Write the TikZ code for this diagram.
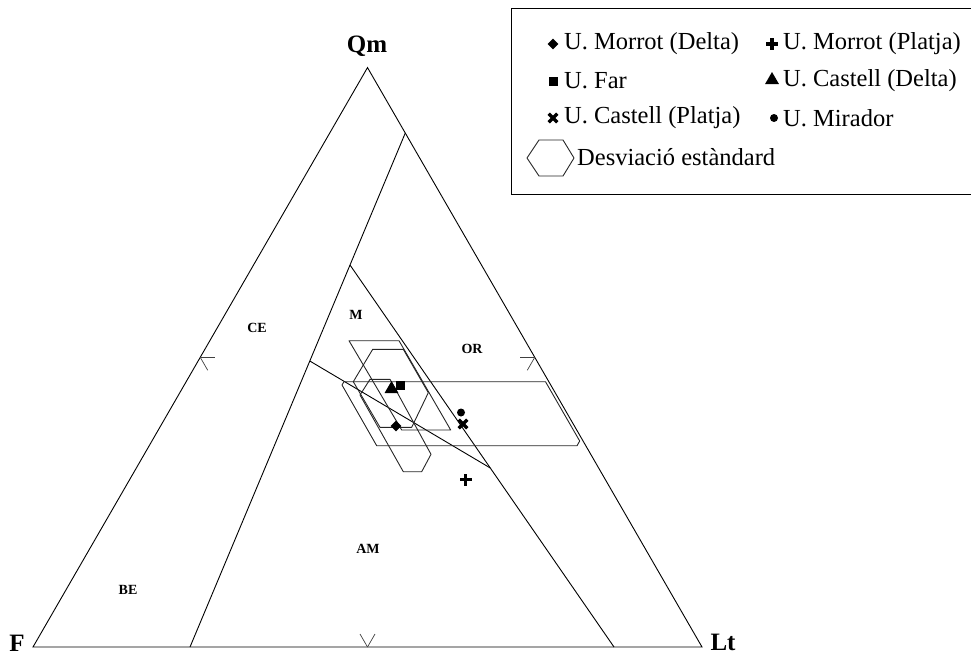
\documentclass[tikz,border=0pt]{standalone}
\usepackage{fontspec}
\setmainfont{Liberation Serif}
\usetikzlibrary{shapes.geometric}
\tikzset{
  tri/.style={line width=0.9pt, black},
  fieldline/.style={line width=0.9pt, black},
  tickline/.style={line width=0.7pt, black!75},
  poly/.style={line width=0.9pt, black!85, line join=round},
  vlab/.style={font=\fontsize{25}{29}\selectfont\bfseries, inner sep=0pt},
  flab/.style={font=\fontsize{14}{16}\selectfont\bfseries, inner sep=0pt},
  legtext/.style={font=\fontsize{24.5}{28}\selectfont, anchor=west, inner sep=0pt},
  mdiam/.style={diamond, fill=black, draw=none, inner sep=0pt, minimum size=11pt},
  msq/.style={rectangle, fill=black, draw=none, inner sep=0pt, minimum size=9pt},
  mtri/.style={regular polygon, regular polygon sides=3, fill=black, draw=none, inner sep=0pt, minimum size=16pt},
  mcirc/.style={circle, fill=black, draw=none, inner sep=0pt, minimum size=8pt},
  mplus/.pic={\fill[black] (-6,-1.9) rectangle (6,1.9); \fill[black] (-1.9,-6) rectangle (1.9,6);},
  mcross/.pic={\draw[black, line width=3.3pt] (-4.3,-4.3) -- (4.3,4.3) (-4.3,4.3) -- (4.3,-4.3);}
}
\begin{document}
\begin{tikzpicture}[x=1pt,y=-1pt]
\useasboundingbox (0,0) rectangle (971,659);
% ternary triangle
\coordinate (F) at (33,647);
\coordinate (L) at (702,647);
\coordinate (Q) at (367.5,67.6);
\draw[tri] (F) -- (L) -- (Q) -- cycle;
\node[vlab] (qmlab) at (367,46) {Qm};
\node[vlab] (flab) at (17,643) {F};
\node[vlab] (ltlab) at (723,642) {Lt};
% field boundaries
\coordinate (a1) at (190,647); \coordinate (a2) at (405.3,133);
\coordinate (b1) at (350,265); \coordinate (b2) at (614,647);
\coordinate (c1) at (309.8,361); \coordinate (c2) at (490.3,468);
\draw[fieldline] (a1) -- (a2);
\draw[fieldline] (b1) -- (b2);
\draw[fieldline] (c1) -- (c2);
% midpoint ticks
\coordinate (mL) at (200.25,357.3);
\coordinate (mR) at (534.75,357.3);
\coordinate (mB) at (367.5,647);
\draw[tickline] (mL) -- ++(15,0);
\draw[tickline] (mL) -- ++(7.5,13);
\draw[tickline] (mR) -- ++(-15,0);
\draw[tickline] (mR) -- ++(-7.5,13);
\draw[tickline] (mB) -- ++(-7.5,-13);
\draw[tickline] (mB) -- ++(7.5,-13);
% field labels
\node[flab] (ce) at (257,328) {CE};
\node[flab] (mm) at (356,315) {M};
\node[flab] (or) at (472,349) {OR};
\node[flab] (am) at (368,549) {AM};
\node[flab] (be) at (128,590) {BE};
% standard deviation polygons
\draw[poly] (349,340.7) -- (399,340.7) -- (450.7,430) -- (401.7,430) -- cycle;
\draw[poly] (372.7,349.3) -- (403.3,349.3) -- (428.3,392.7) -- (411.7,427.3) -- (380,427.3) -- (353.3,381.7) -- cycle;
\draw[poly] (370,379.3) -- (390,379.3) -- (431,454.3) -- (421.7,471.7) -- (403.3,471.7) -- (360,395) -- cycle;
\draw[poly] (344,381.7) -- (545.5,381.7) -- (579.7,441) -- (577,445.7) -- (376.7,445.7) -- (342,385) -- cycle;
% data points
\node[mdiam] (pdiam) at (396,426) {};
\node[msq] (psq) at (400.5,385.5) {};
\node[mtri] (ptri) at (391.5,389) {};
\node[mcirc] (pcirc) at (461,412.5) {};
\pic (pcross) at (463,424) {mcross};
\pic (pplus) at (465.5,479.5) {mplus};
% legend
\draw[line width=0.9pt] (971,8) -- (511,8) -- (511,194) -- (971,194);
\node[mdiam] (ld) at (553,44) {};
\node[legtext] (ldt) at (564,44) {U. Morrot (Delta)};
\pic (lp) at (772,44) {mplus};
\node[legtext] (lpt) at (783,44) {U. Morrot (Platja)};
\node[msq] (ls) at (553,81) {};
\node[legtext] (lst) at (564,81) {U. Far};
\node[mtri] (lt) at (772,80) {};
\node[legtext] (ltt) at (783,81) {U. Castell (Delta)};
\pic (lx) at (553,118) {mcross};
\node[legtext] (lxt) at (564,118) {U. Castell (Platja)};
\node[mcirc] (lc) at (774,118) {};
\node[legtext] (lct) at (783,118) {U. Mirador};
\draw[poly] (527,158) -- (539,140) -- (563,140) -- (574,158) -- (563,176) -- (539,176) -- cycle;
\node[legtext] (lht) at (577,157) {Desviació estàndard};
\end{tikzpicture}
\end{document}
